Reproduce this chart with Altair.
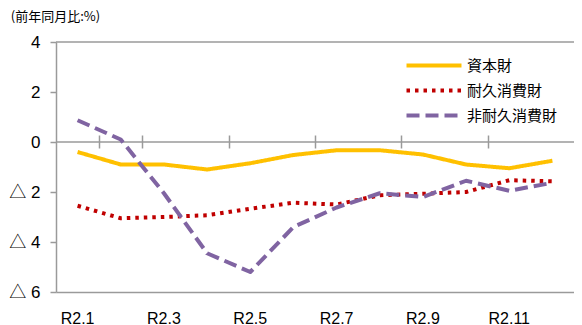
import altair as alt
import pandas as pd

months = ["R2.1", "R2.2", "R2.3", "R2.4", "R2.5", "R2.6",
          "R2.7", "R2.8", "R2.9", "R2.10", "R2.11", "R2.12"]
series_names = ["資本財", "耐久消費財", "非耐久消費財"]
capital = [-0.4, -0.9, -0.9, -1.1, -0.85, -0.52, -0.33, -0.33, -0.5, -0.9, -1.05, -0.75]
durable = [-2.55, -3.05, -3.0, -2.93, -2.67, -2.43, -2.5, -2.13, -2.07, -2.0, -1.53, -1.57]
nondurable = [0.87, 0.1, -2.05, -4.45, -5.2, -3.4, -2.62, -2.05, -2.2, -1.55, -1.95, -1.63]
y_ticks = [-6, -4, -2, 0, 2, 4]
x_label_months = ["R2.1", "R2.3", "R2.5", "R2.7", "R2.9", "R2.11"]
boundary_months = ["R2.2", "R2.4", "R2.6", "R2.8", "R2.10"]
ref_lines = [0, 4]
unit_title = "(前年同月比:%)"

rows = []
for name, vals in zip(series_names, [capital, durable, nondurable]):
    for m, v in zip(months, vals):
        rows.append({"month": m, "series": name, "value": v})
df = pd.DataFrame(rows)
ref_df = pd.DataFrame({"value": ref_lines})

GRAY = "#9a9a9a"
FONT_NUM = "Liberation Sans, Noto Sans CJK JP"
FONT_JP = "Noto Sans CJK JP"

x_scale = alt.Scale(domain=months, paddingInner=0, paddingOuter=0)
y_scale = alt.Scale(domain=[-6, 4], nice=False, zero=False)
y_axis = alt.Axis(values=y_ticks, title=None, grid=False, tickSize=6,
                  tickColor=GRAY, tickWidth=1.5, domainColor=GRAY,
                  domainWidth=1.5, labelFont=FONT_NUM, labelFontSize=17,
                  labelColor="#000", labelPadding=10,
                  labelExpr="datum.value < 0 ? '△ ' + (-datum.value) : datum.label")

lines = alt.Chart(df).mark_line(strokeWidth=4, strokeJoin="round").encode(
    x=alt.X("month:N", scale=x_scale, sort=months,
            axis=alt.Axis(orient="bottom", values=x_label_months, title=None,
                          ticks=False, tickSize=0, domainColor=GRAY, domainWidth=1.5,
                          labelFont=FONT_NUM, labelFontSize=16, labelColor="#000",
                          labelPadding=18, labelAngle=0)),
    y=alt.Y("value:Q", scale=y_scale, axis=y_axis),
    color=alt.Color("series:N", sort=series_names,
                    scale=alt.Scale(domain=series_names,
                                    range=["#FFC000", "#C00000", "#8064A2"]),
                    legend=alt.Legend(title=None)),
    strokeDash=alt.StrokeDash("series:N", sort=series_names,
                              scale=alt.Scale(domain=series_names,
                                              range=[[1, 0], [3.5, 5], [13, 6]]),
                              legend=alt.Legend(title=None)),
)

ticks = alt.Chart(df).mark_point(opacity=0).encode(
    x=alt.X("month:N", sort=months, scale=x_scale,
            axis=alt.Axis(orient="top", values=boundary_months, labels=False,
                          domain=False, tickBand="extent", tickExtra=False,
                          tickSize=13, tickColor=GRAY, tickWidth=1.5,
                          offset=-106, title=None)),
    y=alt.Y("value:Q", scale=y_scale, axis=y_axis),
)

refs = alt.Chart(ref_df).mark_rule(color=GRAY, strokeWidth=1.5).encode(
    y=alt.Y("value:Q", scale=y_scale, axis=y_axis)
)

chart = alt.layer(refs, lines, ticks).resolve_axis(x="independent").properties(
    width=518,
    height=250,
    title=alt.Title(unit_title, anchor="start", frame="bounds", dx=2, offset=9,
                    fontSize=13, font=FONT_JP, fontWeight="normal", color="#000"),
    autosize=alt.AutoSizeParams(type="none"),
    padding={"left": 48, "top": 34, "right": 0, "bottom": 33},
).configure_view(stroke=None).configure_legend(
    orient="none", legendX=339, legendY=12, padding=0,
    symbolType="M0,0H6", symbolSize=336, symbolStrokeWidth=4,
    labelFont=FONT_JP, labelFontSize=15, labelColor="#000", labelOffset=49,
    rowPadding=5,
)

chart.save("out.html", embed_options={"renderer": "svg", "actions": False})
